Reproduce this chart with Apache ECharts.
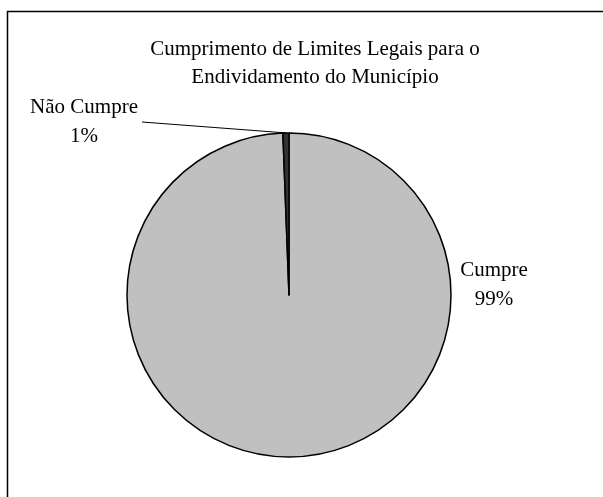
<!DOCTYPE html>
<html>
<head>
<meta charset="utf-8">
<script src="https://cdn.jsdelivr.net/npm/echarts@6/dist/echarts.min.js"></script>
<style>
  html, body { margin: 0; padding: 0; background: #fff; }
  #chart { width: 603px; height: 497px; }
</style>
</head>
<body>
<div id="chart"></div>
<script>
// dados do gráfico
const categorias = ['Cumpre', 'Não Cumpre'];
const valores = [99.4, 0.6];
const cores = ['#c0c0c0', '#333333'];
const titulo = 'Cumprimento de Limites Legais para o\nEndividamento do Município';

const myChart = echarts.init(document.getElementById('chart'));

const option = {
    animation: false,
    backgroundColor: '#fff',
    title: {
        text: titulo,
        left: 310,
        top: 30,
        textAlign: 'center',
        textStyle: {
            fontFamily: 'Liberation Serif',
            fontSize: 21,
            fontWeight: 'normal',
            color: '#000',
            lineHeight: 28
        }
    },
    graphic: [
        {
            type: 'rect',
            shape: { x: 7.5, y: 11.5, width: 700, height: 600 },
            style: { fill: 'none', stroke: '#000', lineWidth: 1.5 }
        }
    ],
    series: [
        {
            name: 'Endividamento',
            type: 'pie',
            center: [289, 295],
            radius: [0, 162],
            startAngle: 90,
            clockwise: true,
            color: cores,
            itemStyle: {
                borderColor: '#000',
                borderWidth: 1.5
            },
            label: {
                show: true,
                fontFamily: 'Liberation Serif',
                fontSize: 21,
                color: '#000',
                lineHeight: 29,
                align: 'center',
                formatter: function (p) {
                    return p.name + '\n' + Math.round(p.percent) + '%';
                }
            },
            labelLine: {
                show: true,
                lineStyle: { color: '#000', width: 1 }
            },
            labelLayout: function (params) {
                // posições das etiquetas como no original
                if (params.dataIndex === 0) {
                    return { x: 494, y: 285, align: 'center', verticalAlign: 'middle', labelLinePoints: [[451, 295], [451, 295], [451, 295]] };
                }
                return { x: 84, y: 122, align: 'center', verticalAlign: 'middle', labelLinePoints: [[287, 133], [142, 122], [142, 122]] };
            },
            data: categorias.map((n, i) => ({ name: n, value: valores[i] }))
        }
    ]
};
myChart.setOption(option);
</script>
</body>
</html>
